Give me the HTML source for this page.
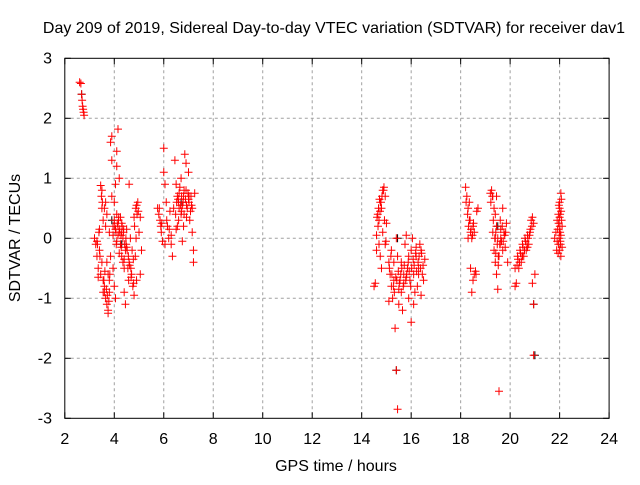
<!DOCTYPE html>
<html><head><meta charset="utf-8"><style>
body{margin:0;background:#fff}
svg text{font-family:"Liberation Sans",sans-serif;font-size:16px;fill:#000}
</style></head><body>
<svg id="chart" width="640" height="480" xmlns="http://www.w3.org/2000/svg">
<text x="334" y="33" text-anchor="middle">Day 209 of 2019, Sidereal Day-to-day VTEC variation (SDTVAR) for receiver dav1</text>
<text x="336" y="471" text-anchor="middle">GPS time / hours</text>
<text transform="translate(20,238) rotate(-90)" text-anchor="middle">SDTVAR / TECUs</text>
<g id="grid"></g>
<g id="black"></g>
<g id="red"></g>
<rect x="64.8" y="58.3" width="544.3" height="360" fill="none" stroke="#000" stroke-width="1"/>
</svg>
<script>
const xTicks=[2,4,6,8,10,12,14,16,18,20,22,24];
const yTicks=[-3,-2,-1,0,1,2,3];
const redX=[2.6,2.65,2.68,2.7,2.72,2.74,2.76,2.78,
3.2,3.25,3.3,3.3,3.35,3.35,3.4,3.45,3.5,3.5,3.55,3.55,3.6,3.6,3.65,3.65,3.7,3.7,3.75,3.75,3.8,3.8,3.85,3.85,3.9,3.9,3.9,3.95,3.95,4.0,4.0,4.05,4.05,4.1,4.1,4.1,4.15,4.15,4.2,4.2,4.25,4.25,4.3,4.3,4.35,4.4,4.4,4.45,4.45,4.5,4.55,4.6,4.6,4.65,4.7,4.75,4.8,4.8,4.85,4.9,4.9,4.95,5.0,5.05,5.05,5.1,
3.95,4.0,4.05,4.1,4.15,4.2,4.3,4.35,4.4,4.5,3.6,3.65,3.7,3.75,3.8,3.4,3.45,3.5,3.55,
4.02,4.07,4.12,4.17,4.22,4.27,4.32,4.37,4.42,4.47,4.52,4.57,4.62,4.67,4.72,4.77,4.82,4.87,4.92,4.97,4.08,4.18,4.28,4.38,4.48,4.58,4.68,4.78,4.88,3.58,3.62,3.68,3.72,3.78,3.82,3.52,3.48,3.42,3.38,3.32,
5.75,5.8,5.85,5.9,5.95,6.0,6.0,6.05,6.05,6.1,6.15,6.2,6.25,6.3,6.35,6.4,6.45,6.5,6.5,6.55,6.6,6.65,6.7,6.7,6.75,6.8,6.85,6.9,6.9,6.95,7.0,7.0,7.05,7.1,7.15,7.15,7.2,7.2,7.25,6.6,6.3,6.8,6.75,6.55,
6.52,6.58,6.62,6.68,6.72,6.78,6.82,6.88,6.92,6.98,7.02,7.08,7.12,6.62,6.72,6.82,6.92,7.02,6.48,5.82,5.88,5.92,6.12,6.22,
14.5,14.55,14.6,14.6,14.65,14.7,14.75,14.8,14.85,14.9,14.95,14.95,15.0,14.75,14.8,14.85,14.7,
14.62,14.68,14.72,14.78,14.82,14.88,14.92,14.98,14.66,14.74,
15.1,15.15,15.2,15.25,15.3,15.35,15.4,15.45,15.4,15.45,15.5,15.55,15.6,15.65,15.7,15.75,15.8,15.85,15.9,15.95,16.0,16.0,16.05,16.1,16.15,16.2,16.25,16.3,16.35,16.4,16.45,16.5,16.55,16.4,15.2,15.3,15.6,15.9,16.1,15.1,
15.12,15.18,15.22,15.28,15.32,15.38,15.42,15.48,15.52,15.58,15.62,15.68,15.72,15.78,15.82,15.88,15.92,15.98,16.02,16.08,16.12,16.18,16.22,16.28,16.32,16.38,16.42,16.48,15.5,15.6,15.7,15.8,16.2,16.3,
18.2,18.25,18.3,18.35,18.4,18.45,18.5,18.4,18.45,18.5,18.55,18.6,18.65,18.7,18.3,18.35,18.55,
18.22,18.28,18.32,18.38,18.42,18.48,18.52,18.62,
19.2,19.25,19.3,19.35,19.4,19.45,19.5,19.3,19.35,19.4,19.45,19.5,19.55,19.55,19.6,19.65,19.7,19.75,19.8,19.85,19.9,19.45,19.6,19.7,19.4,
19.22,19.28,19.32,19.38,19.42,19.48,19.52,19.58,19.62,19.68,19.72,19.78,19.82,19.42,19.52,19.62,
20.2,20.25,20.3,20.35,20.4,20.45,20.5,20.55,20.6,20.65,20.7,20.75,20.8,20.85,20.9,20.95,21.0,20.9,20.95,20.95,20.2,20.5,20.7,
20.28,20.32,20.38,20.42,20.48,20.52,20.58,20.62,20.68,20.72,20.78,20.82,20.88,
21.8,21.85,21.9,21.95,22.0,22.0,22.05,22.05,22.1,21.95,22.0,22.1,21.9,22.05,
21.92,21.96,21.98,22.0,22.02,22.04,22.06,22.08,21.94,21.97,22.01,22.03,22.07,21.99,22.02,21.88];
const redY=[2.6,2.58,2.4,2.3,2.2,2.15,2.1,2.05,
0.0,-0.1,-0.05,-0.3,-0.5,-0.65,0.15,0.88,0.8,0.5,0.3,-0.7,-0.8,-0.9,-1.0,0.6,-1.1,0.4,-1.2,-1.25,0.1,-0.7,-0.3,1.6,1.7,1.3,0.7,0.2,-0.5,-0.8,0.6,-1.0,0.9,1.2,1.45,0.4,1.82,0.2,1.0,0.1,0.35,-0.1,-0.3,0.25,0.0,-0.5,-0.9,-1.1,-0.2,0.15,-0.5,-0.4,0.9,0.0,-0.6,-0.8,0.35,-0.95,-0.3,0.55,-0.7,0.6,0.1,-0.6,0.35,-0.2,
0.05,0.3,0.15,-0.05,0.05,-0.25,0.1,-0.4,-0.35,-0.15,0.5,0.2,-0.4,-0.6,-0.9,-0.2,-0.6,-0.4,-0.9,
0.2,0.1,0.25,0.3,0.15,0.05,0.2,0.1,-0.1,0.0,-0.2,-0.3,-0.45,-0.5,-0.2,-0.35,0.2,0.5,0.4,0.45,-0.1,0.35,-0.15,0.15,-0.1,-0.7,-0.65,-0.75,0.0,-0.7,-0.55,-0.85,-0.95,-1.05,-0.6,0.6,0.7,-0.3,0.1,-0.1,
0.5,0.4,0.3,0.1,-0.05,1.5,1.1,0.9,-0.1,0.6,0.2,0.0,0.45,-0.1,-0.3,0.5,1.3,0.9,0.15,0.7,0.6,0.85,0.4,1.0,0.55,0.7,1.4,1.25,0.8,0.5,0.65,1.1,0.3,0.7,0.5,0.1,-0.2,-0.4,0.75,0.3,0.05,0.2,-0.05,0.2,
0.6,0.65,0.75,0.55,0.7,0.6,0.8,0.65,0.55,0.75,0.6,0.45,0.55,0.5,0.45,0.4,0.35,0.7,0.4,0.5,0.2,0.25,0.3,0.15,
-0.8,-0.75,0.05,-0.2,0.4,0.3,0.6,0.5,0.8,0.85,0.7,-0.1,0.25,-0.3,-0.5,0.1,-0.1,
0.35,0.5,0.65,0.6,0.7,0.8,0.3,-0.05,0.2,0.45,
-0.4,-0.6,-0.8,-1.0,-0.4,-1.5,-2.2,-2.85,0.0,-0.3,-1.1,-0.7,-0.9,-1.2,-0.6,-0.1,0.05,-0.5,-1.0,-0.7,-0.2,-1.4,0.0,-0.6,-0.9,-0.3,-0.8,-0.5,-0.1,-0.2,-0.6,-0.7,-0.35,-0.95,-0.2,-0.7,-0.4,-0.3,-1.1,-1.05,
-0.5,-0.3,-0.6,-0.8,-0.9,-0.65,-0.7,-0.55,-0.75,-0.6,-0.5,-0.8,-0.45,-0.7,-0.6,-0.4,-0.55,-0.8,-0.5,-0.35,-0.45,-0.25,-0.55,-0.4,-0.3,-0.5,-0.25,-0.45,-0.85,-0.9,-0.75,-0.65,-0.15,-0.6,
0.85,0.7,0.5,0.3,0.1,0.0,0.2,-0.5,-0.9,-0.7,-0.6,-0.55,0.45,0.5,0.0,0.6,0.1,
0.6,0.4,0.2,0.3,0.15,0.05,0.25,-0.6,
0.75,0.8,0.7,0.5,0.4,0.2,0.0,0.1,-0.2,-0.4,-0.6,-0.85,-2.55,-0.3,0.3,-0.05,0.5,0.1,-0.15,0.25,-0.4,0.7,-0.1,-0.2,0.0,
0.6,0.7,0.3,0.0,0.1,-0.1,-0.3,-0.1,0.0,0.2,-0.05,0.05,0.1,-0.25,-0.45,0.15,
-0.5,-0.75,-0.3,-0.5,-0.2,-0.4,-0.1,-0.3,0.0,-0.2,0.05,-0.1,0.1,0.3,0.35,0.25,-0.6,-0.75,-1.1,-1.95,-0.8,-0.3,-0.15,
-0.45,-0.35,-0.4,-0.25,-0.3,-0.15,-0.2,-0.05,-0.1,0.0,0.05,0.15,0.2,
0.0,0.1,0.3,-0.1,0.6,0.5,0.75,-0.3,0.2,0.4,-0.2,-0.15,-0.05,0.05,
0.15,0.25,0.0,0.35,0.1,-0.1,0.45,0.3,-0.25,0.55,0.2,-0.05,0.65,0.1,0.4,-0.2];
const blackX=[2.68,3.9,6.7,15.4,15.45,21.0,20.95,19.5,4.3];
const blackY=[2.4,0.3,0.6,-2.2,0.0,-1.95,-1.1,0.2,-0.1];
const X0=64.8,X1=609.1,Y0=418.3,Y1=58.3;
const sx=v=>X0+(v-2)/(24-2)*(X1-X0);
const sy=v=>Y0-(v+3)/6*(Y0-Y1);
const NS="http://www.w3.org/2000/svg";
const grid=document.getElementById('grid');
function mk(tag,attrs,parent){const e=document.createElementNS(NS,tag);for(const k in attrs)e.setAttribute(k,attrs[k]);parent.appendChild(e);return e;}
xTicks.forEach(t=>{const x=sx(t);
 if(t>2&&t<24){const g=mk('line',{x1:x,x2:x,y1:Y1,y2:Y0,stroke:'#a0a0a0','stroke-dasharray':'3,3'},grid);
 
 }
 const a=mk('line',{x1:x,x2:x,y1:Y0,y2:Y0-6,stroke:'#000'},grid);
 
 
 const b=mk('line',{x1:x,x2:x,y1:Y1,y2:Y1+6,stroke:'#000'},grid);
 
 
 const tx=mk('text',{x:x,y:444,'text-anchor':'middle'},grid);tx.textContent=t;
 
 
});
yTicks.forEach(t=>{const y=sy(t);
 if(t>-3&&t<3){const g=mk('line',{x1:X0,x2:X1,y1:y,y2:y,stroke:'#a0a0a0','stroke-dasharray':'3,3'},grid);
 
 }
 const a=mk('line',{x1:X0,x2:X0+6,y1:y,y2:y,stroke:'#000'},grid);
 
 
 const b=mk('line',{x1:X1,x2:X1-6,y1:y,y2:y,stroke:'#000'},grid);
 
 
 const tx=mk('text',{x:52,y:y+5,'text-anchor':'end'},grid);tx.textContent=t;
 
 
});
function plus(xs,ys,color,parent,name){
 let d='';
 xs.forEach((v,i)=>{const x=sx(v),y=sy(ys[i]);d+=`M${x-4},${y}h8M${x},${y-4}v8`;});
 const p=mk('path',{d:d,stroke:color,'stroke-width':1,fill:'none'},parent);
 
 
}
plus(blackX,blackY,'#000',document.getElementById('black'),'black-points');
plus(redX,redY,'#ff0000',document.getElementById('red'),'red-points');
</script>
</body></html>
